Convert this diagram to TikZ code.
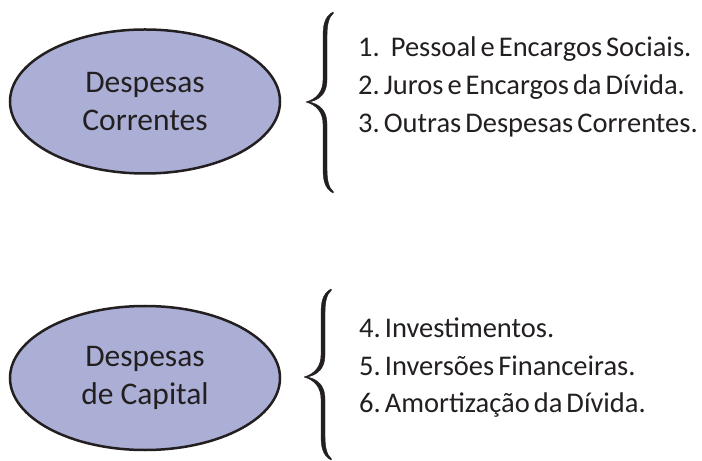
\documentclass[tikz,border=0pt]{standalone}
\usepackage{fontspec}
\setmainfont{Carlito}
\usetikzlibrary{shapes.geometric}
\definecolor{ellfill}{HTML}{ABAFD5}
\definecolor{ink}{HTML}{231F20}
\definecolor{txt}{HTML}{231F20}
\newcommand\mybrace[4]{% x-stem, ytop, ytip, ybot
  \fill[bracestyle] (#1+8,#2) .. controls (#1-1,#2+5) and (#1-2,#2+14) .. (#1-2,#2+26)
    -- (#1-2,#3-22) .. controls (#1-2,#3-11) and (#1-8,#3-3) .. (#1-19,#3)
    .. controls (#1-8,#3+3) and (#1-2,#3+11) .. (#1-2,#3+22)
    -- (#1-2,#4-26) .. controls (#1-2,#4-14) and (#1-1,#4-5) .. (#1+8,#4)
    -- (#1+8.5,#4-1) .. controls (#1+3,#4-6) and (#1+2,#4-14) .. (#1+2,#4-26)
    -- (#1+2,#3+22) .. controls (#1+2,#3+9) and (#1-5,#3+2) .. (#1-16,#3)
    .. controls (#1-5,#3-2) and (#1+2,#3-9) .. (#1+2,#3-22)
    -- (#1+2,#2+26) .. controls (#1+2,#2+14) and (#1+3,#2+6) .. (#1+8.5,#2+1) -- cycle;}
\newcommand\tightsp{\frenchspacing\spaceskip=4bp plus 1bp\relax}
\tikzset{
  ell/.style={ellipse, draw=ink, line width=2.5bp, fill=ellfill, minimum width=270bp,
    minimum height=144bp, inner sep=0pt, align=center, text=txt,
    font=\fontsize{31.5bp}{38bp}\selectfont},
  item/.style={anchor=base west, inner sep=0pt, text=txt,
    font=\fontsize{28.5bp}{32bp}\selectfont\tightsp},
  bracestyle/.style={fill=ink, draw=ink, line width=0.4bp, line join=round}
}
\begin{document}
\begin{tikzpicture}[x=1bp,y=-1bp]
\useasboundingbox (0,0) rectangle (702,461);
\node[ell] (corr) at (145,101.5) {Despesas\\Correntes};
\node[ell] (cap) at (145,378) {Despesas\\de Capital};
\mybrace{325}{12}{102}{193}
\mybrace{323}{289}{377}{460}
\node[item] (i1) at (358,57) {1.\hspace{11bp}Pessoal e Encargos Sociais.};
\node[item] (i2) at (358,95) {2. Juros e Encargos da Dívida.};
\node[item] (i3) at (358,133) {3. Outras Despesas Correntes.};
\node[item] (i4) at (359,338) {4. Investimentos.};
\node[item] (i5) at (359,375) {5. Inversões Financeiras.};
\node[item] (i6) at (359,412) {6. Amortização da Dívida.};
\end{tikzpicture}
\end{document}
